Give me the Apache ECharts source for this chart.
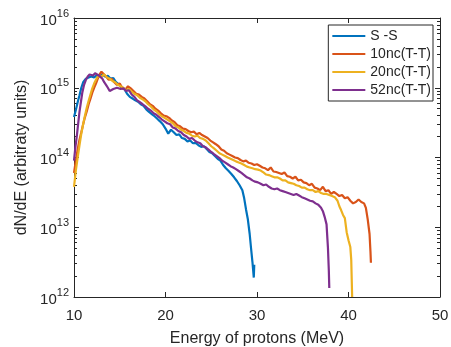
<!DOCTYPE html>
<html>
<head>
<meta charset="utf-8">
<script src="https://cdn.jsdelivr.net/npm/echarts@6/dist/echarts.min.js"></script>
<style>
  html, body { margin: 0; padding: 0; background: #fff; }
  #chart { width: 451px; height: 347px; }
</style>
</head>
<body>
<div id="chart"></div>
<script>
// series names as in the legend
const seriesNames = ['S -S', '10nc(T-T)', '20nc(T-T)', '52nc(T-T)'];
const seriesColors = ['#0072BD', '#D95319', '#EDB120', '#7E2F8E'];

// [energy MeV, dN/dE]
const ssData = [[10.0,3.8e14],[10.2,4.8e14],[10.4,6.2e14],[10.6,7.8e14],[10.8,1.0e15],[11.0,1.2e15],[11.3,1.35e15],[11.6,1.40e15],[11.9,1.45e15],[12.2,1.40e15],[12.5,1.52e15],[12.8,1.48e15],[13.1,1.55e15],[13.4,1.45e15],[13.7,1.48e15],[14.0,1.35e15],[14.3,1.38e15],[14.6,1.2e15],[14.9,1.12e15],[15.2,1.0e15],[15.5,9.6e14],[15.8,8.2e14],[16.1,7.4e14],[16.4,7.0e14],[16.7,6.6e14],[17.0,6.3e14],[17.3,5.8e14],[17.6,5.5e14],[17.9,4.9e14],[18.2,4.5e14],[18.5,4.2e14],[18.8,3.9e14],[19.1,3.6e14],[19.4,3.3e14],[19.7,3.0e14],[20.0,2.6e14],[20.3,2.2e14],[20.6,2.5e14],[20.9,2.3e14],[21.2,2.1e14],[21.5,2.15e14],[21.8,1.9e14],[22.1,1.85e14],[22.4,1.7e14],[22.7,1.75e14],[23.0,1.6e14],[23.3,1.62e14],[23.6,1.5e14],[23.9,1.42e14],[24.2,1.45e14],[24.5,1.32e14],[24.8,1.2e14],[25.1,1.15e14],[25.4,1.05e14],[25.7,9.6e13],[26.0,9.0e13],[26.3,7.8e13],[26.6,7.0e13],[26.9,6.4e13],[27.2,5.8e13],[27.5,5.2e13],[27.8,4.6e13],[28.1,4.0e13],[28.4,3.4e13],[28.6,2.6e13],[28.8,1.8e13],[29.0,1.3e13],[29.2,8.0e12],[29.35,5.0e12],[29.5,3.2e12],[29.65,1.9e12],[29.7,2.9e12]];

const nc10Data = [[10.0,6.0e13],[10.2,9.0e13],[10.4,1.3e14],[10.6,1.8e14],[10.8,2.3e14],[11.0,3.0e14],[11.2,3.8e14],[11.4,4.6e14],[11.6,5.8e14],[11.8,7.0e14],[12.0,8.5e14],[12.2,1.0e15],[12.4,1.15e15],[12.6,1.35e15],[12.8,1.55e15],[13.0,1.7e15],[13.2,1.6e15],[13.5,1.45e15],[13.8,1.3e15],[14.1,1.35e15],[14.4,1.2e15],[14.7,1.1e15],[15.0,1.15e15],[15.3,9.8e14],[15.6,9.4e14],[15.9,1.05e15],[16.2,9.8e14],[16.5,9.0e14],[16.8,8.2e14],[17.1,8.0e14],[17.4,7.4e14],[17.7,7.0e14],[18.0,6.4e14],[18.3,5.8e14],[18.6,5.5e14],[18.9,5.0e14],[19.2,4.7e14],[19.5,4.3e14],[19.8,4.0e14],[20.1,3.9e14],[20.4,3.7e14],[20.7,3.4e14],[21.0,3.2e14],[21.3,2.9e14],[21.6,2.8e14],[21.9,2.6e14],[22.2,2.55e14],[22.5,2.4e14],[22.8,2.3e14],[23.1,2.35e14],[23.4,2.15e14],[23.7,2.25e14],[24.0,2.1e14],[24.3,2.0e14],[24.6,1.9e14],[24.9,1.75e14],[25.2,1.65e14],[25.5,1.55e14],[25.8,1.45e14],[26.1,1.3e14],[26.4,1.25e14],[26.7,1.15e14],[27.0,1.1e14],[27.3,1.05e14],[27.6,1.0e14],[27.9,9.8e13],[28.2,9.2e13],[28.5,8.8e13],[28.8,9.0e13],[29.1,8.4e13],[29.4,8.2e13],[29.7,7.8e13],[30.0,8.0e13],[30.3,7.6e13],[30.6,7.2e13],[30.9,7.0e13],[31.2,6.6e13],[31.5,7.2e13],[31.8,6.3e13],[32.1,6.2e13],[32.4,6.0e13],[32.7,5.8e13],[33.0,6.1e13],[33.3,5.4e13],[33.6,5.3e13],[33.9,5.0e13],[34.2,5.3e13],[34.5,4.7e13],[34.8,4.8e13],[35.1,4.4e13],[35.4,4.3e13],[35.7,4.0e13],[36.0,4.2e13],[36.3,3.7e13],[36.6,3.6e13],[36.9,3.4e13],[37.2,3.8e13],[37.5,3.3e13],[37.8,3.4e13],[38.1,3.0e13],[38.4,3.2e13],[38.7,3.0e13],[39.0,2.8e13],[39.3,2.9e13],[39.6,2.6e13],[39.9,2.7e13],[40.2,2.4e13],[40.5,2.2e13],[40.8,2.3e13],[41.1,2.5e13],[41.4,2.3e13],[41.7,2.2e13],[41.9,1.9e13],[42.1,1.3e13],[42.3,8.0e12],[42.4,4.5e12],[42.45,3.1e12]];

const nc20Data = [[10.0,3.8e13],[10.2,6.5e13],[10.4,1.0e14],[10.6,1.5e14],[10.8,2.2e14],[11.0,3.0e14],[11.2,4.0e14],[11.4,5.2e14],[11.6,6.5e14],[11.8,8.0e14],[12.0,9.8e14],[12.2,1.15e15],[12.4,1.3e15],[12.6,1.45e15],[12.8,1.5e15],[13.0,1.45e15],[13.3,1.55e15],[13.6,1.4e15],[13.9,1.35e15],[14.2,1.25e15],[14.5,1.2e15],[14.8,1.1e15],[15.1,1.05e15],[15.4,1.0e15],[15.7,9.2e14],[16.0,9.6e14],[16.3,8.8e14],[16.6,8.2e14],[16.9,7.8e14],[17.2,7.2e14],[17.5,6.8e14],[17.8,6.4e14],[18.1,5.8e14],[18.4,5.4e14],[18.7,4.9e14],[19.0,4.6e14],[19.3,4.2e14],[19.6,3.9e14],[19.9,3.7e14],[20.2,3.5e14],[20.5,3.3e14],[20.8,3.1e14],[21.1,2.8e14],[21.4,2.7e14],[21.7,2.5e14],[22.0,2.4e14],[22.3,2.25e14],[22.6,2.2e14],[22.9,2.05e14],[23.2,2.0e14],[23.5,2.05e14],[23.8,1.9e14],[24.1,1.85e14],[24.4,1.75e14],[24.7,1.6e14],[25.0,1.45e14],[25.3,1.35e14],[25.6,1.25e14],[25.9,1.15e14],[26.2,1.1e14],[26.5,1.05e14],[26.8,1.0e14],[27.1,9.6e13],[27.4,9.2e13],[27.7,8.8e13],[28.0,8.5e13],[28.3,8.2e13],[28.6,7.8e13],[28.9,7.4e13],[29.2,7.2e13],[29.5,7.0e13],[29.8,6.8e13],[30.1,6.7e13],[30.4,6.5e13],[30.7,6.1e13],[31.0,5.7e13],[31.3,5.6e13],[31.6,5.4e13],[31.9,5.2e13],[32.2,5.2e13],[32.5,5.0e13],[32.8,4.7e13],[33.1,4.7e13],[33.4,4.4e13],[33.7,4.3e13],[34.0,4.2e13],[34.3,4.0e13],[34.6,3.9e13],[34.9,3.7e13],[35.2,3.7e13],[35.5,3.5e13],[35.8,3.4e13],[36.1,3.4e13],[36.4,3.2e13],[36.7,3.3e13],[37.0,3.1e13],[37.3,3.0e13],[37.6,3.0e13],[37.9,2.9e13],[38.2,2.8e13],[38.5,2.7e13],[38.8,2.4e13],[39.0,2.0e13],[39.2,1.75e13],[39.4,1.5e13],[39.6,1.35e13],[39.8,8.5e12],[40.0,6.5e12],[40.2,5.2e12],[40.3,3.4e12],[40.4,1.0e12]];

const nc52Data = [[10.0,9.0e13],[10.15,1.4e14],[10.3,2.0e14],[10.45,3.0e14],[10.6,4.5e14],[10.75,6.2e14],[10.9,8.4e14],[11.1,1.1e15],[11.3,1.3e15],[11.5,1.45e15],[11.7,1.55e15],[11.9,1.6e15],[12.1,1.5e15],[12.3,1.62e15],[12.5,1.55e15],[12.7,1.5e15],[12.9,1.45e15],[13.1,1.35e15],[13.3,1.2e15],[13.5,1.1e15],[13.7,1.0e15],[13.9,9.0e14],[14.1,8.8e14],[14.3,9.6e14],[14.5,1.02e15],[14.7,1.0e15],[14.9,1.05e15],[15.1,9.6e14],[15.4,9.8e14],[15.7,9.0e14],[16.0,9.2e14],[16.3,8.0e14],[16.6,7.4e14],[16.9,6.6e14],[17.2,6.2e14],[17.5,5.8e14],[17.8,5.4e14],[18.1,5.0e14],[18.4,4.7e14],[18.7,4.3e14],[19.0,4.1e14],[19.3,3.8e14],[19.6,3.5e14],[19.9,3.3e14],[20.2,3.1e14],[20.5,3.0e14],[20.8,2.7e14],[21.1,2.6e14],[21.4,2.4e14],[21.7,2.3e14],[22.0,2.1e14],[22.3,2.0e14],[22.6,1.85e14],[22.9,1.9e14],[23.2,1.75e14],[23.5,1.65e14],[23.8,1.6e14],[24.1,1.45e14],[24.4,1.4e14],[24.7,1.3e14],[25.0,1.2e14],[25.3,1.12e14],[25.6,1.05e14],[25.9,9.8e13],[26.2,9.0e13],[26.5,8.5e13],[26.8,8.0e13],[27.1,7.5e13],[27.4,7.2e13],[27.7,6.8e13],[28.0,6.4e13],[28.3,6.0e13],[28.6,5.6e13],[28.9,5.2e13],[29.2,5.0e13],[29.5,4.7e13],[29.8,4.5e13],[30.1,4.4e13],[30.4,4.2e13],[30.7,4.0e13],[31.0,4.1e13],[31.3,3.8e13],[31.6,3.6e13],[31.9,3.5e13],[32.2,3.6e13],[32.5,3.4e13],[32.8,3.3e13],[33.1,3.2e13],[33.4,3.1e13],[33.7,3.0e13],[34.0,2.9e13],[34.3,3.0e13],[34.6,2.85e13],[34.9,2.7e13],[35.2,2.6e13],[35.5,2.5e13],[35.8,2.4e13],[36.1,2.35e13],[36.4,2.2e13],[36.7,2.1e13],[37.0,1.9e13],[37.2,1.7e13],[37.4,1.4e13],[37.6,1.1e13],[37.75,5.2e12],[37.85,2.4e12],[37.9,1.35e12]];

const allData = [ssData, nc10Data, nc20Data, nc52Data];

// axis ranges / ticks
const xMin = 10, xMax = 50, xStep = 10;
const yMin = 1e12, yMax = 1e16;
const decadeMin = 12, decadeMax = 16;

// minor log ticks 2..9 x 10^n, as log10 positions on a helper axis
let minorTicks = [];
for (let e = decadeMin; e < decadeMax; e++) {
    for (let m = 2; m <= 9; m++) {
        minorTicks.push(e + Math.log10(m));
    }
}

const axisColor = '#262626';
const fontFamily = 'Liberation Sans, Arial, sans-serif';

function baseLogAxis(pos) {
    return {
        type: 'log',
        position: pos,
        min: yMin,
        max: yMax,
        logBase: 10,
        axisLine: { show: true, lineStyle: { color: axisColor, width: 1 } },
        axisTick: { show: true, inside: true, length: 5, lineStyle: { color: axisColor } },
        axisLabel: { show: false },
        splitLine: { show: false }
    };
}

// helper axis only for the minor tick marks (log10 space)
function minorAxis(pos) {
    return {
        type: 'value',
        position: pos,
        min: decadeMin,
        max: decadeMax,
        axisLine: { show: false },
        axisTick: { show: true, inside: true, length: 3, customValues: minorTicks, lineStyle: { color: axisColor } },
        axisLabel: { show: false },
        splitLine: { show: false }
    };
}

let yLeft = baseLogAxis('left');
yLeft.name = 'dN/dE (arbitraty units)';
yLeft.nameLocation = 'middle';
yLeft.nameGap = 44;
yLeft.nameTextStyle = { color: axisColor, fontSize: 16, fontFamily: fontFamily };
yLeft.axisLabel = {
    show: true,
    margin: 5,
    formatter: function (value) {
        let exp = Math.round(Math.log10(value));
        return '{b|10}{s|' + exp + '}';
    },
    rich: {
        b: { fontSize: 15, color: axisColor, fontFamily: fontFamily, verticalAlign: 'bottom', lineHeight: 20 },
        s: { fontSize: 11, color: axisColor, fontFamily: fontFamily, verticalAlign: 'top', lineHeight: 20, padding: [0, 0, 9, 0] }
    }
};

let yRight = baseLogAxis('right');

function baseXAxis(pos) {
    return {
        type: 'value',
        position: pos,
        min: xMin,
        max: xMax,
        interval: xStep,
        axisLine: { show: true, lineStyle: { color: axisColor, width: 1 } },
        axisTick: { show: true, inside: true, length: 5, lineStyle: { color: axisColor } },
        axisLabel: { show: false },
        splitLine: { show: false }
    };
}

let xBottom = baseXAxis('bottom');
xBottom.name = 'Energy of protons (MeV)';
xBottom.nameLocation = 'middle';
xBottom.nameGap = 34;
xBottom.nameTextStyle = { color: axisColor, fontSize: 16, fontFamily: fontFamily };
xBottom.axisLabel = { show: true, margin: 11, color: axisColor, fontSize: 15, fontFamily: fontFamily };

let xTop = baseXAxis('top');

let series = [];
for (let i = 0; i < seriesNames.length; i++) {
    series.push({
        name: seriesNames[i],
        type: 'line',
        data: allData[i],
        showSymbol: false,
        symbol: 'none',
        clip: true,
        lineStyle: { width: 2.2, color: seriesColors[i] },
        itemStyle: { color: seriesColors[i] }
    });
}

const option = {
    animation: false,
    backgroundColor: '#fff',
    color: seriesColors,
    grid: { left: 74, right: 11, top: 18, bottom: 50, outerBoundsMode: 'none', containLabel: false },
    legend: {
        orient: 'vertical',
        right: 18,
        top: 25,
        padding: [3, 2, 3, 4],
        itemGap: 2,
        itemWidth: 33,
        itemHeight: 2,
        icon: 'rect',
        borderColor: axisColor,
        borderWidth: 1,
        borderRadius: 0,
        backgroundColor: '#fff',
        textStyle: { color: axisColor, fontSize: 14, fontFamily: fontFamily, lineHeight: 16 },
        data: seriesNames
    },
    xAxis: [xBottom, xTop],
    yAxis: [yLeft, yRight, minorAxis('left'), minorAxis('right')],
    series: series
};

let chart = echarts.init(document.getElementById('chart'));
chart.setOption(option);
</script>
</body>
</html>
